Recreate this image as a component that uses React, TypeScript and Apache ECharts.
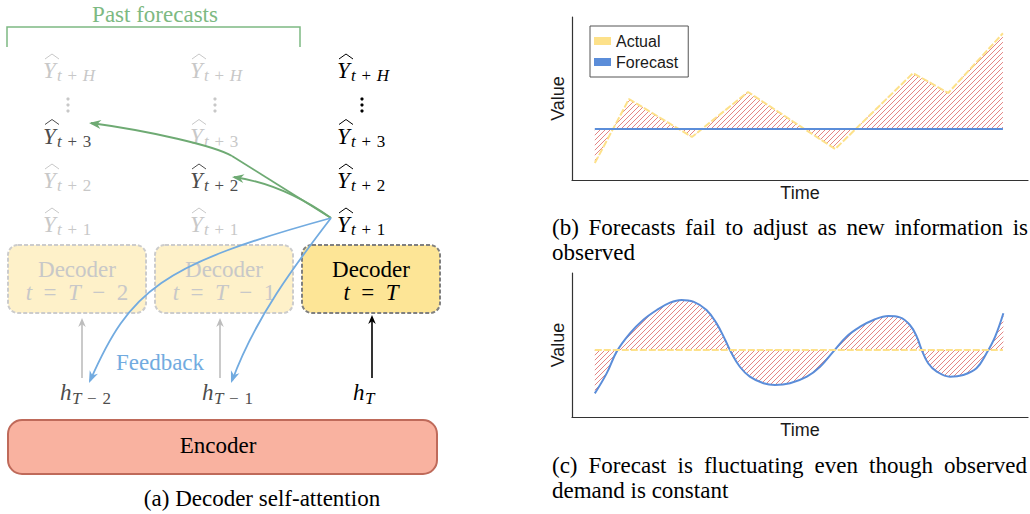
import React, { useEffect, useRef } from 'react';
import * as echarts from 'echarts';

// ---------------- data ----------------
// (b) actual demand vs. a flat forecast
const B_TIME = [5, 12.5, 26.3, 38.6, 57.7, 74.8, 82.5, 94.5];
const B_ACTUAL = [1.04, 4.97, 2.64, 5.4, 1.9, 6.56, 5.34, 9.0];
const B_FORECAST_TIME = [5, 94.5];
const B_FORECAST = [3.13, 3.13];

// (c) constant demand vs. a fluctuating forecast
const C_TIME = [5.0, 7.6, 9.8, 12.7, 15.6, 18.6, 21.5, 24.0, 26.6, 29.5, 31.7, 33.6, 35.0, 36.8, 39.0, 42.0, 44.5, 47.8, 51.5, 54.4, 57.3, 60.2, 63.2, 66.1, 69.4, 71.9, 74.1, 75.6, 76.7, 78.1, 80.0, 82.9, 85.8, 88.7, 90.9, 92.8, 94.6];
const C_FORECAST = [1.64, 3.03, 4.54, 5.81, 6.74, 7.43, 7.94, 8.13, 8.01, 7.43, 6.5, 5.35, 4.42, 3.49, 2.8, 2.34, 2.22, 2.34, 2.8, 3.49, 4.54, 5.58, 6.27, 6.74, 7.01, 6.92, 6.39, 5.58, 4.65, 3.73, 3.15, 2.8, 2.92, 3.38, 4.42, 5.58, 7.2];
const C_ACTUAL_TIME = [5, 94.5];
const C_ACTUAL = [4.65, 4.65];

const LEGEND_NAMES = ['Actual', 'Forecast'];
const AXIS_NAMES = ['Time', 'Value'];

// (a) diagram texts
const PAST_LABEL = 'Past forecasts';
const HORIZON_ROWS = ['t+H', 'dots', 't+3', 't+2', 't+1'];
const PAST_HIGHLIGHT = ['t+3', 't+2'];
const DECODER_STEPS = ['t=T−2', 't=T−1', 't=T'];
const HIDDEN_STATES = ['T−2', 'T−1', 'T'];
const FEEDBACK_LABEL = 'Feedback';
const ENCODER_LABEL = 'Encoder';
const DECODER_LABEL = 'Decoder';
const CAPTION_A = '(a) Decoder self-attention';
const CAPTION_B = ['(b) Forecasts fail to adjust as new information is', 'observed'];
const CAPTION_C = ['(c) Forecast is fluctuating even though observed', 'demand is constant'];

// ---------------- styles ----------------
const YELLOW = '#fde18a';
const BLUE = '#5b8dd9';
const HATCH = '#e48585';
const GREEN_T = '#7db982';
const GREEN_A = '#6eaa73';
const BLUE_A = '#72abe0';
const FADED = '#c8c8c8';
const DARK = '#4d4d4d';
const SERIF = '"Liberation Serif", "Times New Roman", serif';
const SANS = '"Liberation Sans", Arial, sans-serif';
const f = (size: number, italic = false) => `${italic ? 'italic ' : ''}${size}px ${SERIF}`;

function measureWidth(s: string, font: string) {
  const ctx = document.createElement('canvas').getContext('2d')!;
  ctx.font = font;
  return ctx.measureText(s).width;
}

function txt(x: number, y: number, text: string, font: string, fill: string, align = 'left', rich?: any) {
  const style: any = { text, font, fill, align, verticalAlign: 'middle', textAlign: align, textVerticalAlign: 'middle' };
  if (rich) style.rich = rich;
  return { type: 'text', x, y, silent: true, style };
}

function mathRich(s: string, space: string) {
  let out = '';
  for (const ch of s) {
    if (/[A-Za-z]/.test(ch)) out += `{i|${ch}}`;
    else if (ch === '+' || ch === '−' || ch === '=') out += `{n|${space}${ch}${space}}`;
    else out += `{n|${ch}}`;
  }
  return out;
}
const richFor = (size: number) => ({ i: { font: f(size, true) }, n: { font: f(size) } });

function head(tx: number, ty: number, fx: number, fy: number, color: string, L = 12, W = 4.5) {
  const dx = tx - fx, dy = ty - fy;
  const len = Math.hypot(dx, dy);
  const ux = dx / len, uy = dy / len;
  const nx = -uy, ny = ux;
  const bx = tx - ux * L, by = ty - uy * L;
  const mx = tx - ux * L * 0.7, my = ty - uy * L * 0.7;
  return {
    type: 'polygon', silent: true,
    shape: { points: [[tx, ty], [bx + nx * W, by + ny * W], [mx, my], [bx - nx * W, by - ny * W]] },
    style: { fill: color },
  };
}

function bez(p: number[][], color: string, w = 1.8) {
  return {
    type: 'bezierCurve', silent: true,
    shape: { x1: p[0][0], y1: p[0][1], cpx1: p[1][0], cpy1: p[1][1], cpx2: p[2][0], cpy2: p[2][1], x2: p[3][0], y2: p[3][1] },
    style: { stroke: color, lineWidth: w, fill: null },
  };
}

function buildGraphic() {
  const G: any[] = [];
  // bracket + label
  G.push({ type: 'polyline', silent: true, shape: { points: [[7, 47], [7, 27], [300, 27], [300, 47]] }, style: { stroke: GREEN_T, lineWidth: 1.5, fill: null } });
  G.push(txt(155, 14.5, PAST_LABEL, f(23), GREEN_T, 'center'));

  const colX = [43, 190, 337];
  const rowY = [70.5, 105, 136, 180.5, 224.5];
  colX.forEach((xc, c) => {
    HORIZON_ROWS.forEach((key, r) => {
      const yc = rowY[r];
      let color = c === 2 ? '#000' : FADED;
      if (c < 2 && PAST_HIGHLIGHT[c] === key) color = DARK;
      if (key === 'dots') {
        [-6, 0, 6].forEach((d) => G.push({ type: 'circle', silent: true, shape: { cx: xc + 25, cy: yc + d, r: 1.6 }, style: { fill: color } }));
        return;
      }
      G.push({ type: 'polyline', silent: true, shape: { points: [[xc + 2, yc - 11.5], [xc + 9, yc - 16.5], [xc + 16, yc - 11.5]] }, style: { stroke: color, lineWidth: 1, fill: null } });
      G.push(txt(xc, yc, 'Y', f(23, true), color));
      G.push(txt(xc + 14, yc + 5, mathRich(key, '\u2004'), f(17), color, 'left', richFor(17)));
    });
  });

  // decoder boxes
  const boxX = [8, 155, 302];
  boxX.forEach((bx, c) => {
    const main = c === 2;
    G.push({
      type: 'rect', silent: true,
      shape: { x: bx, y: 245, width: 138, height: 68, r: 10 },
      style: { fill: main ? '#fde596' : '#fef1c9', stroke: main ? '#808080' : '#cccccc', lineWidth: 2, lineDash: [4, 2] },
    });
    const color = main ? '#000' : FADED;
    G.push(txt(bx + 69, 269, DECODER_LABEL, f(23), color, 'center'));
    G.push(txt(bx + 69, 292, mathRich(DECODER_STEPS[c], '\u2002'), f(23), color, 'center', richFor(23)));
  });

  // hidden states and up arrows
  const hX = [60, 202, 353];
  const arrowX = [82, 220, 372];
  HIDDEN_STATES.forEach((s, c) => {
    const color = c === 2 ? '#000' : DARK;
    G.push(txt(hX[c], 392, 'h', f(23, true), color));
    G.push(txt(hX[c] + 12, 398.5, mathRich(s, '\u2004'), f(17), color, 'left', richFor(17)));
    const ac = c === 2 ? '#000' : '#bdbdbd';
    const tip = c === 2 ? 315 : 318;
    G.push({ type: 'line', silent: true, shape: { x1: arrowX[c], y1: 378, x2: arrowX[c], y2: tip + 6 }, style: { stroke: ac, lineWidth: 1.6 } });
    G.push(head(arrowX[c], tip, arrowX[c], tip + 10, ac, 9, 3.8));
  });

  G.push(txt(160, 362.5, FEEDBACK_LABEL, f(23), BLUE_A, 'center'));

  // encoder
  G.push({ type: 'rect', silent: true, shape: { x: 8, y: 420, width: 429, height: 54, r: 14 }, style: { fill: '#f9b2a0', stroke: '#bf6a5a', lineWidth: 2 } });
  G.push(txt(218, 445.5, ENCODER_LABEL, f(23), '#000', 'center'));

  // green arrows
  G.push(bez([[331, 218], [298, 197], [265, 177], [232, 156]], GREEN_A));
  G.push(bez([[232, 156], [215, 146], [150, 131], [91, 123]], GREEN_A));
  G.push(head(89, 123, 150, 131, GREEN_A));
  G.push(bez([[331, 218], [300, 196], [268, 182], [234, 177]], GREEN_A));
  G.push(head(232, 177, 268, 182, GREEN_A));
  // blue arrows
  G.push(bez([[331, 218], [160, 265], [130, 290], [90, 381]], BLUE_A));
  G.push(head(89, 383, 130, 290, BLUE_A));
  G.push(bez([[331, 218], [295, 265], [255, 318], [232, 381]], BLUE_A));
  G.push(head(231, 383, 255, 318, BLUE_A));

  // captions
  const capFont = f(23);
  G.push(txt(262, 498, CAPTION_A, capFont, '#000', 'center'));
  const justify = (line: string, x0: number, x1: number, y: number) => {
    const words = line.split(' ');
    const widths = words.map((w) => measureWidth(w, capFont));
    const total = widths.reduce((a, b) => a + b, 0);
    const gap = (x1 - x0 - total) / (words.length - 1);
    let x = x0;
    words.forEach((w, i) => {
      G.push(txt(x, y, w, capFont, '#000'));
      x += widths[i] + gap;
    });
  };
  justify(CAPTION_B[0], 552, 1028, 227);
  G.push(txt(552, 252, CAPTION_B[1], capFont, '#000'));
  justify(CAPTION_C[0], 552, 1027, 465);
  G.push(txt(552, 490, CAPTION_C[1], capFont, '#000'));
  return G;
}

function makeHatch() {
  const s = 5;
  const c = document.createElement('canvas');
  c.width = s;
  c.height = s;
  const ctx = c.getContext('2d')!;
  ctx.strokeStyle = HATCH;
  ctx.lineWidth = 1;
  ctx.beginPath();
  for (const k of [-s, 0, s]) {
    ctx.moveTo(k, s);
    ctx.lineTo(k + s, 0);
  }
  ctx.stroke();
  return { image: c, repeat: 'repeat', imageWidth: s, imageHeight: s };
}

function buildOption() {
  const hatch = makeHatch();
  const axisBase = {
    type: 'value', min: 0,
    axisLine: { show: true, onZero: false, lineStyle: { color: '#333', width: 1.2 } },
    axisTick: { show: false }, axisLabel: { show: false }, splitLine: { show: false },
    nameLocation: 'middle',
    nameTextStyle: { fontFamily: SANS, fontSize: 18, color: '#1a1a1a' },
  };
  return {
    animation: false,
    grid: [
      { left: 572, top: 17, width: 456, height: 163 },
      { left: 572, top: 273, width: 456, height: 144 },
    ],
    xAxis: [0, 1].map((i) => ({ ...axisBase, gridIndex: i, max: 100, name: AXIS_NAMES[0], nameGap: 4 })),
    yAxis: [0, 1].map((i) => ({ ...axisBase, gridIndex: i, max: 10, name: AXIS_NAMES[1], nameGap: 5, nameRotate: 90 })),
    legend: {
      orient: 'vertical', left: 590, top: 26, icon: 'rect', itemWidth: 17, itemHeight: 8, itemGap: 5,
      padding: [7, 10, 7, 4], borderColor: '#555', borderWidth: 1, selectedMode: false,
      itemStyle: { borderWidth: 0 },
      textStyle: { fontFamily: SANS, fontSize: 16, color: '#1a1a1a' },
      data: [
        { name: LEGEND_NAMES[0], itemStyle: { color: YELLOW } },
        { name: LEGEND_NAMES[1], itemStyle: { color: BLUE } },
      ],
    },
    series: [
      {
        name: LEGEND_NAMES[0], type: 'line', xAxisIndex: 0, yAxisIndex: 0,
        data: B_TIME.map((t, i) => [t, B_ACTUAL[i]]), symbol: 'none', color: YELLOW,
        lineStyle: { color: YELLOW, width: 2, type: [7, 2] },
        areaStyle: { origin: B_FORECAST[0], color: hatch, opacity: 1 }, z: 2,
      },
      {
        name: LEGEND_NAMES[1], type: 'line', xAxisIndex: 0, yAxisIndex: 0,
        data: B_FORECAST_TIME.map((t, i) => [t, B_FORECAST[i]]), symbol: 'none', color: BLUE,
        lineStyle: { color: BLUE, width: 2 }, z: 3,
      },
      {
        name: 'Forecast (c)', type: 'line', xAxisIndex: 1, yAxisIndex: 1,
        data: C_TIME.map((t, i) => [t, C_FORECAST[i]]), symbol: 'none', smooth: 0.4, color: BLUE,
        lineStyle: { color: BLUE, width: 2 },
        areaStyle: { origin: C_ACTUAL[0], color: hatch, opacity: 1 }, z: 2,
      },
      {
        name: 'Actual (c)', type: 'line', xAxisIndex: 1, yAxisIndex: 1,
        data: C_ACTUAL_TIME.map((t, i) => [t, C_ACTUAL[i]]), symbol: 'none', color: YELLOW,
        lineStyle: { color: YELLOW, width: 2, type: [7, 2] }, z: 3,
      },
    ],
    graphic: { elements: buildGraphic() },
  };
}

export default function App() {
  const ref = useRef<HTMLDivElement>(null);
  useEffect(() => {
    document.body.style.margin = '0';
    const chart = echarts.init(ref.current!, null, { renderer: 'svg' });
    chart.setOption(buildOption() as any);
    return () => chart.dispose();
  }, []);
  return <div ref={ref} style={{ width: 1030, height: 514 }} />;
}
